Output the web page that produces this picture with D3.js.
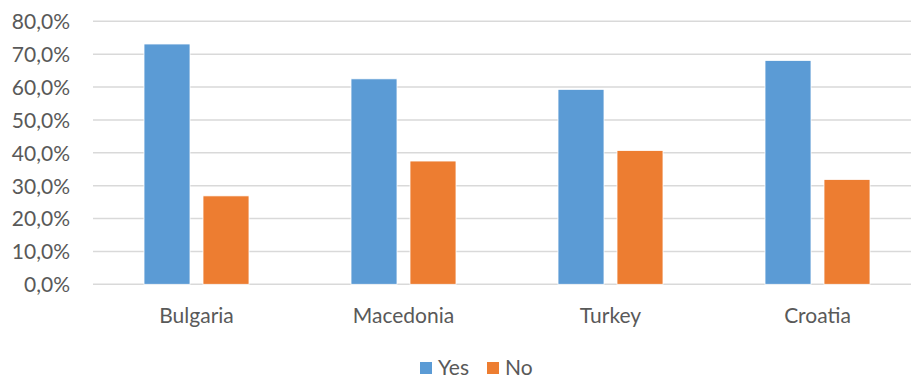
<!DOCTYPE html>
<html>
<head>
<meta charset="utf-8">
<script src="https://cdn.jsdelivr.net/npm/d3@7"></script>
<style>
  html, body { margin: 0; padding: 0; background: #fff; }
  svg { display: block; }
  text { font-family: Lato, "Open Sans", sans-serif; fill: #595959; }
</style>
</head>
<body>
<svg id="chart" width="911" height="378"></svg>
<script>
// Share of answers per country
const countries = ["Bulgaria", "Macedonia", "Turkey", "Croatia"];
const seriesNames = ["Yes", "No"];
const yesValues = [0.731, 0.625, 0.593, 0.681];
const noValues = [0.269, 0.375, 0.407, 0.319];
const yTicks = [0, 0.1, 0.2, 0.3, 0.4, 0.5, 0.6, 0.7, 0.8];
const colors = ["#5B9BD5", "#ED7D31"];

const seriesValues = [yesValues, noValues];
const rows = countries.map((c, i) => ({
  country: c,
  values: seriesNames.map((s, k) => ({ series: s, value: seriesValues[k][i], k }))
}));

const svg = d3.select("#chart");
const plot = { left: 93, right: 921, top: 21.3, bottom: 284.3 };
const fontSize = "21px";

const y = d3.scaleLinear().domain([0, 0.8]).range([plot.bottom, plot.top]);
const x0 = d3.scaleBand().domain(countries).range([plot.left, plot.right])
  .paddingInner(0.4928).paddingOuter(0.2464);
const x1 = d3.scaleBand().domain(seriesNames).range([0, x0.bandwidth()])
  .paddingInner(0.2203).paddingOuter(0);

const fmt = v => d3.format(".1f")(v * 100).replace(".", ",") + "%";

// gridlines
svg.append("g")
  .selectAll("line")
  .data(yTicks)
  .join("line")
  .attr("x1", plot.left).attr("x2", 911)
  .attr("y1", d => y(d)).attr("y2", d => y(d))
  .attr("stroke", "#d9d9d9").attr("stroke-width", 1.4);

// y axis labels
const yAxis = d3.axisLeft(y).tickValues(yTicks).tickFormat(fmt).tickSize(0).tickPadding(0);
const yg = svg.append("g").attr("transform", "translate(70,0)").call(yAxis);
yg.select(".domain").remove();
yg.selectAll("text").style("font-size", fontSize).attr("fill", "#595959")
  .attr("font-family", null).attr("dy", "0.35em");

// bars
const groups = svg.append("g").selectAll("g")
  .data(rows)
  .join("g")
  .attr("transform", d => `translate(${x0(d.country)},0)`);
groups.selectAll("rect")
  .data(d => d.values)
  .join("rect")
  .attr("x", d => x1(d.series))
  .attr("width", x1.bandwidth())
  .attr("y", d => y(d.value))
  .attr("height", d => y(0) - y(d.value))
  .attr("fill", d => colors[d.k])
  .attr("stroke", "#ffffff").attr("stroke-width", 0.8);

// x axis labels
const xAxis = d3.axisBottom(x0).tickSize(0).tickPadding(0);
const xg = svg.append("g").attr("transform", "translate(0,322.5)").call(xAxis);
xg.select(".domain").remove();
xg.selectAll("text").style("font-size", fontSize).attr("fill", "#595959")
  .attr("font-family", null).attr("dy", 0).attr("y", 0);

// legend
const legend = svg.append("g");
const legendX = [420, 487];
seriesNames.forEach((s, k) => {
  legend.append("rect")
    .attr("x", legendX[k]).attr("y", 362)
    .attr("width", 12).attr("height", 12)
    .attr("fill", colors[k]);
  legend.append("text")
    .attr("x", legendX[k] + 18).attr("y", 374.5)
    .style("font-size", fontSize)
    .text(s);
});
</script>
</body>
</html>
